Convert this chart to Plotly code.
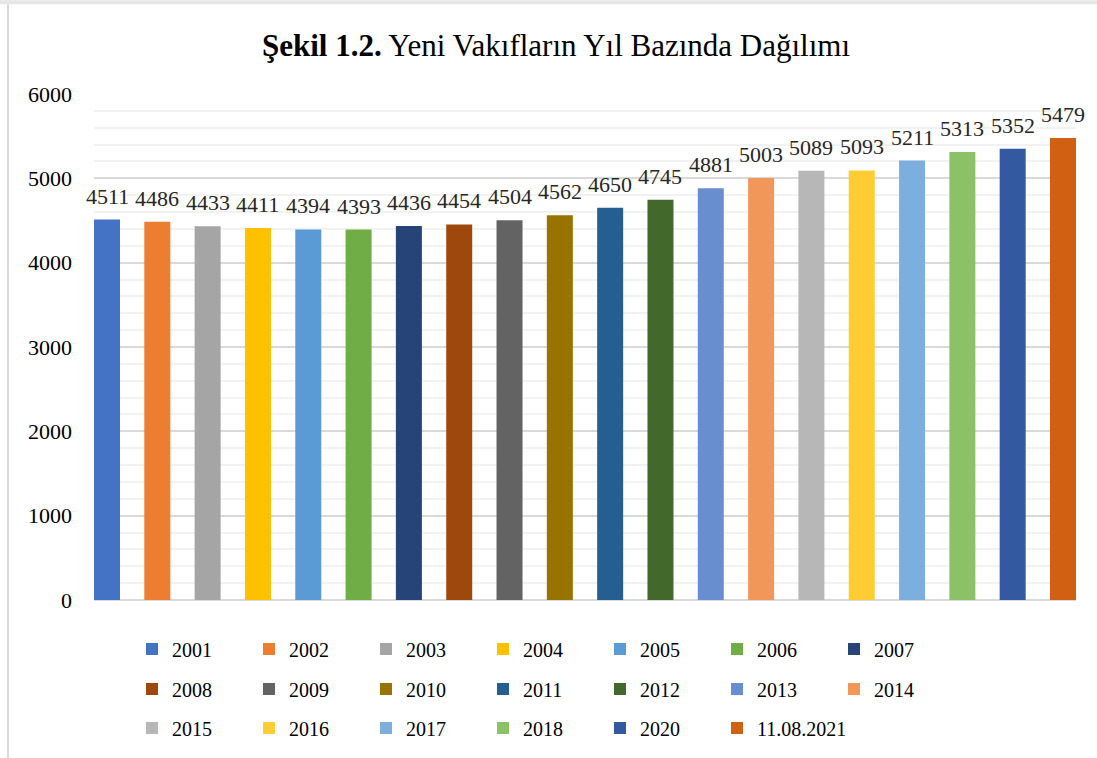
import plotly.graph_objects as go

categories = ["2001", "2002", "2003", "2004", "2005", "2006", "2007", "2008", "2009", "2010",
              "2011", "2012", "2013", "2014", "2015", "2016", "2017", "2018", "2020", "11.08.2021"]
values = [4511, 4486, 4433, 4411, 4394, 4393, 4436, 4454, 4504, 4562,
          4650, 4745, 4881, 5003, 5089, 5093, 5211, 5313, 5352, 5479]
colors = ["#4472C4", "#ED7D31", "#A5A5A5", "#FFC000", "#5B9BD5", "#70AD47", "#264478",
          "#9E480E", "#636363", "#997300", "#255E91", "#43682B", "#698ED0", "#F1975A",
          "#B7B7B7", "#FFCD33", "#7CAFDD", "#8CC168", "#335AA1", "#D26012"]
y_ticks = [0, 1000, 2000, 3000, 4000, 5000, 6000]

W, H = 1097, 758
ML, MR, MT, MB = 94, 21, 94, 157
PW, PH = W - ML - MR, H - MT - MB

BAR_FRAC = 0.517          # bar width as fraction of category slot
half = BAR_FRAC / 2

FONT = "Liberation Serif, Times New Roman, serif"

fig = go.Figure()
n = len(categories)
for i, (c, v, col) in enumerate(zip(categories, values, colors)):
    if i < 7:
        lg = "legend"
    elif i < 14:
        lg = "legend2"
    elif i < 19:
        lg = "legend3"
    else:
        lg = "legend4"
    fig.add_trace(go.Bar(
        x=[c], y=[v], name=c, marker_color=col, marker_line_width=0,
        legend=lg, hoverinfo="x+y",
    ))
    # value label above the bar (x given as category index)
    fig.add_annotation(
        x=i, y=v, xref="x", yref="y", text=str(v), showarrow=False,
        xanchor="center", yanchor="bottom", yshift=9,
        font=dict(family=FONT, size=22, color="#262626"),
    )

def py(ypx):
    return (H - MB - ypx) / PH

def px(xpx):
    return (xpx - ML) / PW

legend_common = dict(
    orientation="h", xanchor="left", yanchor="middle",
    font=dict(family=FONT, size=20, color="black"),
    entrywidth=72, entrywidthmode="pixels", itemwidth=30,
    bgcolor="rgba(0,0,0,0)", tracegroupgap=0,
)
row_y = [649, 689, 728]
LX = 132
STEP = 117
fig.update_layout(
    legend=dict(x=px(LX), y=py(row_y[0]), **legend_common),
    legend2=dict(x=px(LX), y=py(row_y[1]), **legend_common),
    legend3=dict(x=px(LX), y=py(row_y[2]), **legend_common),
    legend4=dict(x=px(LX + 5 * STEP), y=py(row_y[2]),
                 **{**legend_common, "entrywidth": 130}),
)

fig.update_layout(
    width=W, height=H,
    margin=dict(l=ML, r=MR, t=MT, b=MB),
    paper_bgcolor="white", plot_bgcolor="white",
    title=dict(
        text="<b>Şekil 1.2.</b> Yeni Vakıfların Yıl Bazında Dağılımı",
        x=556 / W, xref="container", xanchor="center", y=1 - 45 / H, yanchor="middle",
        font=dict(family=FONT, size=31, color="black"),
    ),
    bargap=1 - BAR_FRAC,
    showlegend=True,
    xaxis=dict(showticklabels=False, showgrid=False, zeroline=False,
               showline=False, ticks="", range=[-half, n - 1 + half],
               type="category"),
    yaxis=dict(
        range=[0, 6000], tickvals=y_ticks, ticktext=[str(t) for t in y_ticks],
        showgrid=True, gridcolor="#d9d9d9", gridwidth=1.5,
        minor=dict(dtick=200, tick0=0, showgrid=True, gridcolor="#f2f2f2", gridwidth=1.5),
        zeroline=True, zerolinecolor="#d9d9d9", zerolinewidth=1.5,
        tickfont=dict(family=FONT, size=22, color="black"),
        ticks="", ticklabelstandoff=21, showline=False,
    ),
    shapes=[
        dict(type="line", xref="paper", yref="paper",
             x0=px(8), x1=px(8), y0=py(4), y1=py(H + 5),
             line=dict(color="#d9d9d9", width=2)),
        dict(type="line", xref="paper", yref="paper",
             x0=px(-5), x1=px(W + 5), y0=py(2), y1=py(2),
             line=dict(color="#e6e6e6", width=4)),
    ],
)

fig.write_html("out.html", config={"displayModeBar": False},
               post_script="document.body.style.margin='0';document.body.style.overflow='hidden';")
